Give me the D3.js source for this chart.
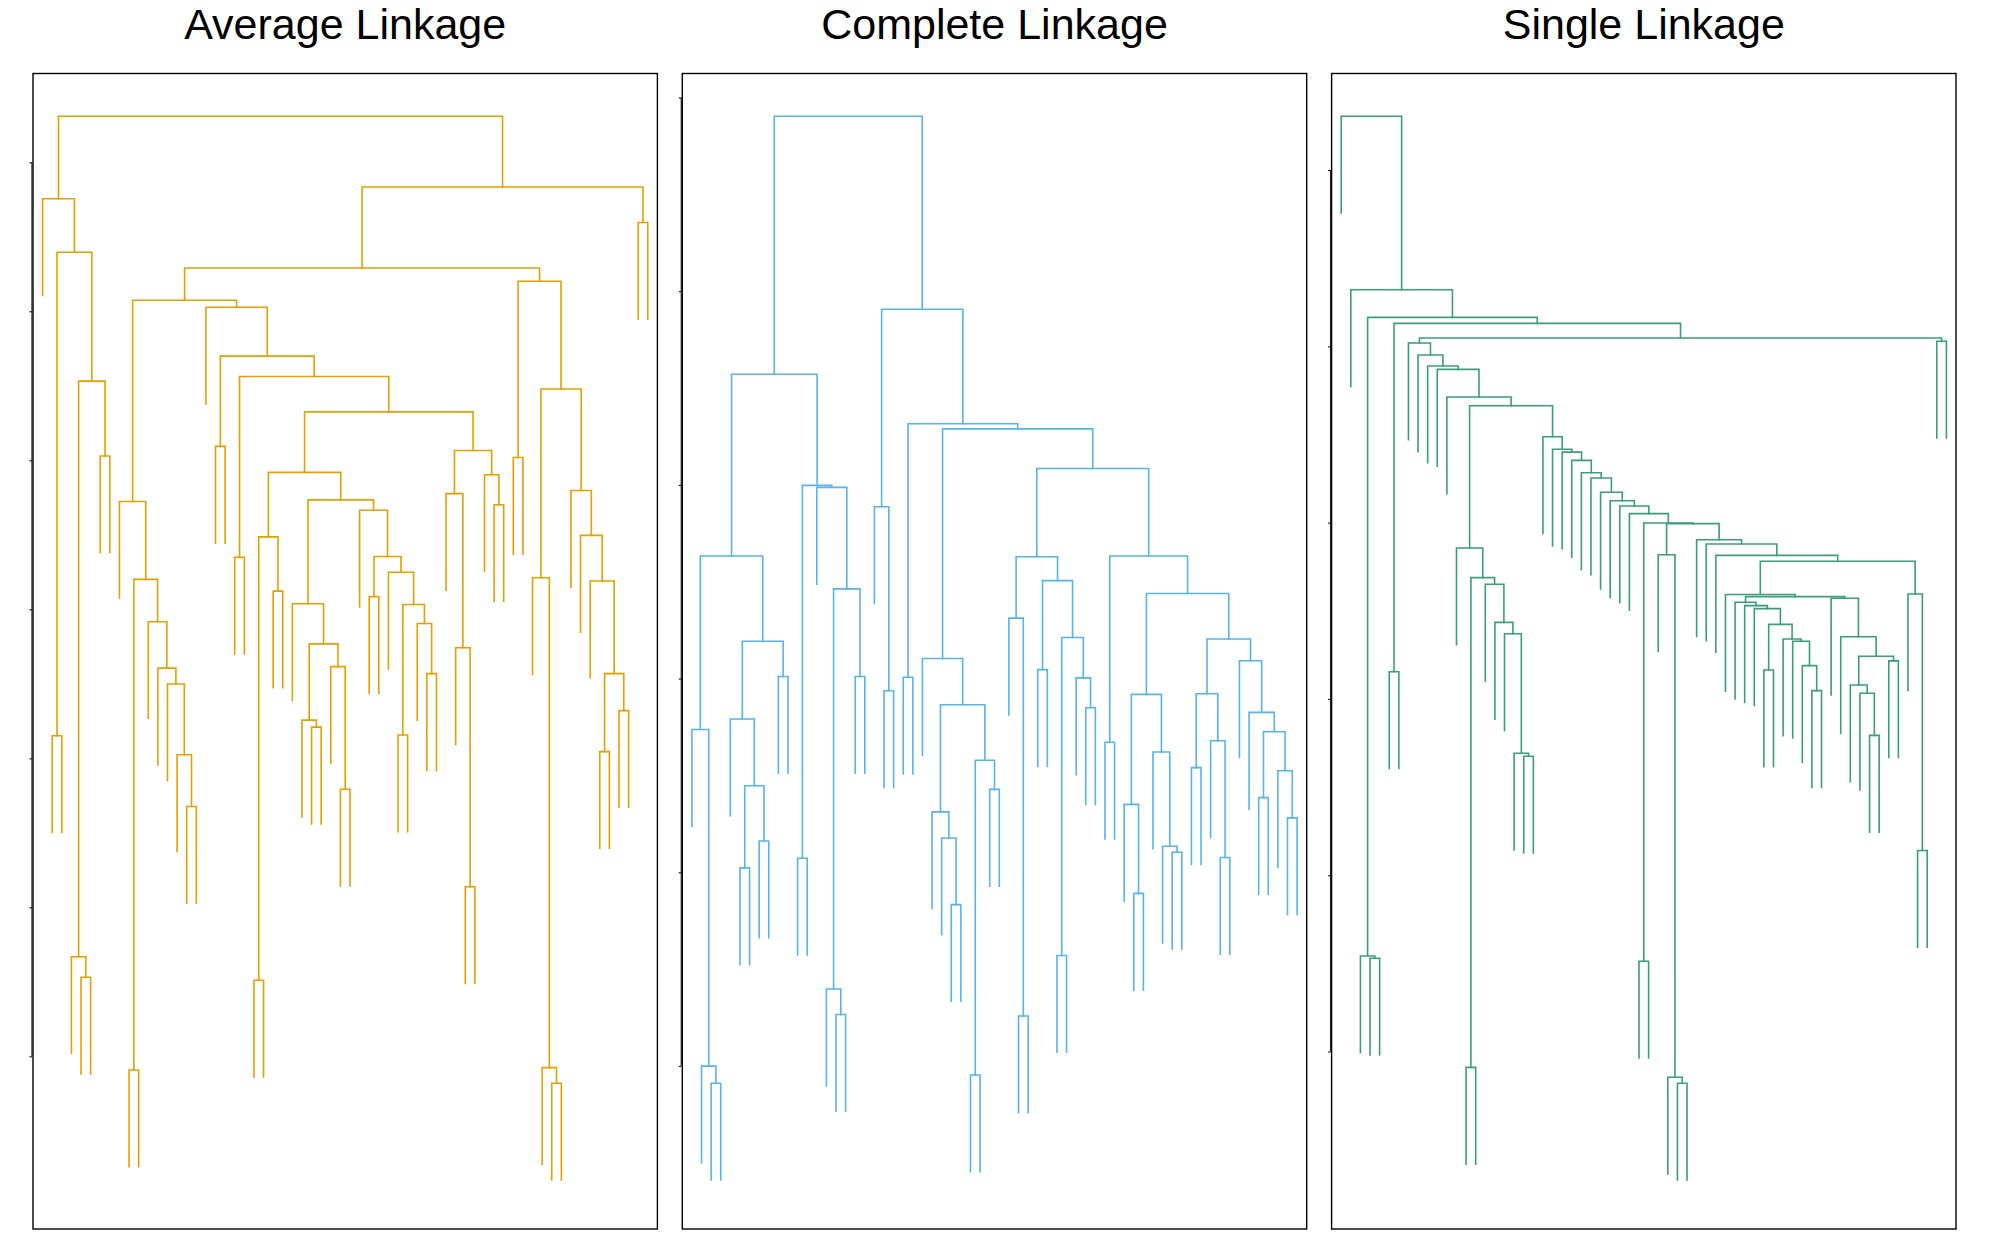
<!DOCTYPE html>
<html>
<head>
<meta charset="utf-8">
<script src="https://cdn.jsdelivr.net/npm/d3@7"></script>
<style>
  html, body { margin: 0; padding: 0; background: #fff; }
  svg { display: block; }
</style>
</head>
<body>
<svg id="chart" width="1996" height="1233"></svg>
<script>
// ---------------- data ----------------
// Internal node: [mergeHeight, leftChild, rightChild]; leaves numbered in display order (1..64).
const titles = ["Average Linkage", "Complete Linkage", "Single Linkage"];
const colors = ["#E69F00", "#56B4E9", "#3A9E77"];

// ---- Average linkage ----
const avgA  = [97.55, 1, [93.96, [61.51, 2, 3], [85.31, [46.68, 4, [45.31, 5, 6]], [80.29, 7, 8]]]];
const avgC2 = [77.23, 9, [72.01, [39.08, 10, 11], [69.16, 12, [66.05, 13, [64.99, 14, [60.24, 15, [56.76, 16, 17]]]]]]];
const avgC19 = [77.34,
  [70.37, 27, [67.68, [62.56, 28, [62.09, 29, 30]], [66.15, 31, [57.92, 32, 33]]]],
  [76.65, 34, [73.54, [70.85, 35, 36], [72.49, 37, [70.32, [61.56, 38, 39], [69.05, 40, [65.68, 41, 42]]]]]]];
const avgC17 = [80.66, [77.76, 43, [67.42, 44, [51.38, 45, 46]]], [79.03, 47, [77.02, 48, 49]]];
const avgC3 = [90.27, 18, [86.99, [80.93, 19, 20], [85.62, [73.49, 21, 22], [83.25, [79.19, [74.86, [45.10, 23, 24], [71.22, 25, 26]], avgC19], avgC17]]]];
const avgD1 = [92.01, [80.19, 50, 51], [84.78, [72.12, 52, [39.24, 53, [38.19, 54, 55]]], [77.97, 56, [74.96, 57, [71.90, 58, [65.68, [60.45, 59, 60], [63.20, 61, 62]]]]]]];
const averageTree = [103.09, avgA, [98.34, [92.90, [90.74, avgC2, avgC3], avgD1], [95.96, 63, 64]]];

// ---- Complete linkage ----
const cmpP1 = [111.42,
  [92.65, [74.74, 1, [39.98, 2, [38.21, 3, 4]]], [83.85, [75.82, 5, [68.94, [60.45, 6, 7], [63.23, 8, 9]]], [80.22, 10, 11]]],
  [99.95, [61.45, 12, 13], [99.74, 14, [89.26, [47.94, 15, [45.31, 16, 17]], [80.22, 18, 19]]]]];
const cmpQ7 = [82.07, 25, [77.29, [66.24, 26, [63.54, 27, [56.66, 28, 29]]], [71.57, [39.06, 30, 31], [68.56, 32, 33]]]];
const cmpR1 = [92.58, [86.24, 34, [45.16, 35, 36]], [90.11, [80.92, 37, 38], [84.24, [51.41, 39, 40], [80.07, 41, [76.98, 42, 43]]]]];
const cmpS1 = [92.65, [73.42, 44, 45],
  [88.79,
    [78.37, [67.01, 46, [57.82, 47, 48]], [72.42, 49, [62.69, 50, [62.07, 51, 52]]]],
    [84.08, [78.44, [70.80, 53, 54], [73.58, 55, [61.53, 56, 57]]],
            [81.84, 58, [76.51, 59, [74.51, [67.71, 60, 61], [70.49, 62, [65.62, 63, 64]]]]]]]];
const completeTree = [138.07, cmpP1, [118.14, [97.75, 20, [78.75, 21, 22]], [106.32, [80.14, 23, 24], [105.78, cmpQ7, [101.69, cmpR1, cmpS1]]]]];

// ---- Single linkage ----
const sglV7 = [68.56, 13, [66.88, [39.10, 14, 15], [66.50, 16, [64.34, 17, [63.70, 18, [56.92, 19, [56.75, 20, 21]]]]]]];
const sglN2 = [65.80,
  [65.48, 42, [65.29, 43, [65.12, 44, [64.23, [61.64, 45, 46], [63.40, 47, [63.27, 48, [61.89, 49, [60.47, 50, 51]]]]]]]],
  [65.71, 52, [63.53, 53, [62.42, [60.79, 54, [60.32, 55, [57.93, 56, 57]]], [62.16, 58, 59]]]]];
const sglS3 = [69.03, 38, [68.79, 39, [68.14, 40, [67.81, [65.92, 41, sglN2], [65.95, 60, [51.40, 61, 62]]]]]];
const sglQ  = [69.98, [45.12, 32, 33], [69.94, [68.18, 34, [38.54, 35, [38.20, 36, 37]]], sglS3]];
const sglV8 = [74.87, 22, [74.16, 23, [74.00, 24, [73.53, 25, [72.83, 26, [72.53, 27, [71.72, 28, [71.24, 29, [70.94, 30, [70.51, 31, sglQ]]]]]]]]]];
const singleTree = [93.05, 1, [83.21, 2, [81.64, [45.42, 3, [45.29, 4, 5]], [81.30, [61.54, 6, 7], [80.47, [80.19, 8, [79.51, 9, [78.88, 10, [78.69, 11, [77.12, 12, [76.63, sglV7, sglV8]]]]]], [80.29, 63, 64]]]]]];

// y-axis tick values (tick labels are not shown in the figure)
const averageTicks = [40, 50, 60, 70, 80, 90, 100];
const completeTicks = [40, 60, 80, 100, 120, 140];
const singleTicks = [40, 50, 60, 70, 80, 90];

const hang = 0.1;

// ---------------- layout ----------------
const trees = [averageTree, completeTree, singleTree];
const tickSets = [averageTicks, completeTicks, singleTicks];

const marginLeft = 33, boxTop = 73.5;
const panelW = 624.4, panelH = 1155.5, gap = 24.9;
const plotTop = 116.2, plotBottom = 1180;

const svg = d3.select("#chart");
svg.append("rect").attr("width", 1996).attr("height", 1233).attr("fill", "#fff");

trees.forEach((tree, i) => {
  const x0 = marginLeft + i * (panelW + gap);
  const root = d3.hierarchy(tree, d => Array.isArray(d) ? d.slice(1) : null);
  const leaves = root.leaves();
  const internal = root.descendants().filter(n => n.children);
  const hMin = d3.min(internal, n => n.data[0]);
  const hMax = d3.max(internal, n => n.data[0]);
  const hangAmt = hang * (hMax - hMin);

  const x = d3.scaleLinear().domain([0, leaves.length + 1]).range([x0, x0 + panelW]);
  const y = d3.scaleLinear().domain([hMin - hangAmt, hMax]).range([plotBottom, plotTop]);

  leaves.forEach((l, k) => { l.pos = k + 1; });
  root.eachAfter(n => { if (n.children) n.pos = d3.mean(n.children, c => c.pos); });
  root.each(n => { n.h = n.children ? n.data[0] : n.parent.data[0] - hangAmt; });

  const g = svg.append("g");

  g.selectAll("path.link")
    .data(internal)
    .join("path")
    .attr("class", "link")
    .attr("d", n => {
      const [a, b] = n.children;
      return `M${x(a.pos)},${y(a.h)}V${y(n.h)}H${x(b.pos)}V${y(b.h)}`;
    })
    .attr("fill", "none")
    .attr("stroke", colors[i])
    .attr("stroke-width", 1.6)
    .attr("stroke-linecap", "square");

  // frame
  g.append("rect")
    .attr("x", x0).attr("y", boxTop)
    .attr("width", panelW).attr("height", panelH)
    .attr("fill", "none").attr("stroke", "#000").attr("stroke-width", 1.4);

  // y axis (ticks only, no labels)
  const ticks = tickSets[i];
  const axis = d3.axisLeft(y).tickValues(ticks).tickSize(2.5).tickFormat("");
  const ag = g.append("g").attr("transform", `translate(${x0 - 1},0)`).call(axis);
  ag.select(".domain").remove();
  ag.selectAll(".tick line").attr("stroke", "#222").attr("stroke-width", 1.2);
  ag.append("line")
    .attr("x1", 0).attr("x2", 0)
    .attr("y1", y(d3.min(ticks))).attr("y2", y(d3.max(ticks)))
    .attr("stroke", "#222").attr("stroke-width", 1.3);

  // title
  g.append("text")
    .attr("x", x0 + panelW / 2)
    .attr("y", 39.4)
    .attr("text-anchor", "middle")
    .attr("font-family", "'Liberation Sans', Arial, Helvetica, sans-serif")
    .attr("font-size", 43)
    .attr("fill", "#000")
    .text(titles[i]);
});
</script>
</body>
</html>
